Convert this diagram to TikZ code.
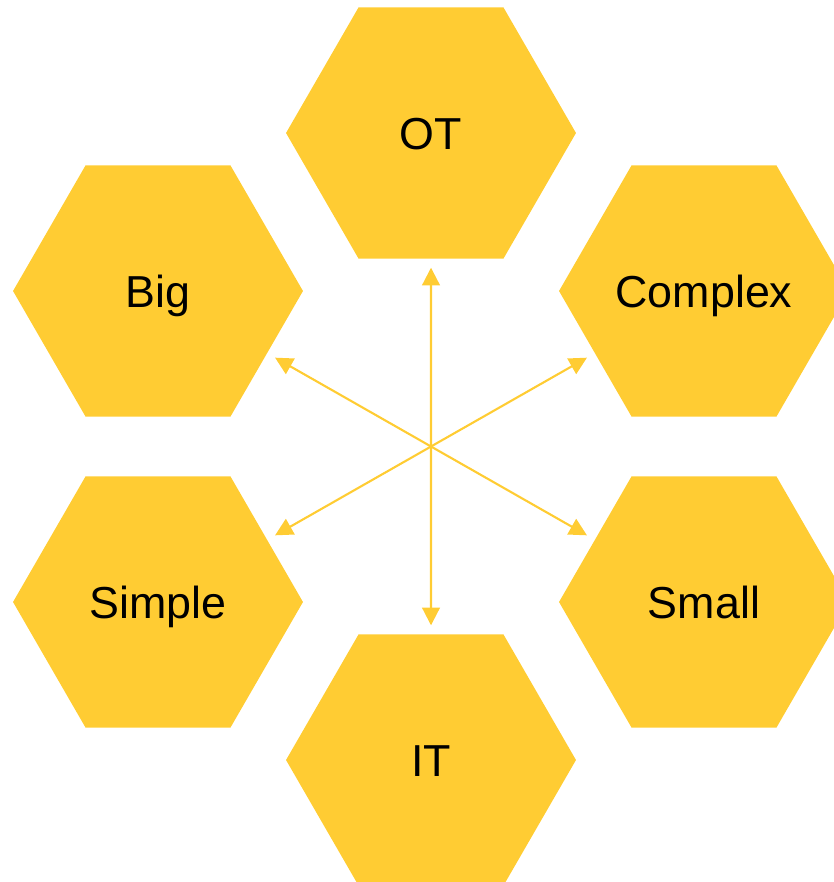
\documentclass[tikz,border=0pt]{standalone}
\usepackage{fontspec}
\setmainfont{Liberation Sans}
\usetikzlibrary{shapes.geometric,arrows.meta}
\definecolor{hexyellow}{RGB}{255,204,51}
\tikzset{
  hexcell/.style={regular polygon, regular polygon sides=6, minimum size=5.8cm,
    fill=hexyellow, inner sep=0pt, text height=18.3pt, text depth=0pt,
    font=\fontsize{25.5}{30}\selectfont},
  link/.style={hexyellow, line width=1.2pt, {Triangle[length=10pt,width=10pt]}-{Triangle[length=10pt,width=10pt]},
    shorten >=5pt, shorten <=5pt}
}

\begin{document}
\begin{tikzpicture}[x=0.02cm, y=-0.02cm]
   \useasboundingbox (0,0) rectangle (834,882);
   \clip (0,0) rectangle (834,882);
   % hexagons
   \node[hexcell] (OT) at (431,133) {OT};
   \node[hexcell] (Big) at (158,291) {Big};
   \node[hexcell] (Complex) at (704,291) {Complex};
   \node[hexcell] (Simple) at (158,602) {Simple};
   \node[hexcell] (Small) at (704,602) {Small};
   \node[hexcell] (IT) at (431,760) {IT};
   % double arrows
   \draw[link] (OT) -- (IT);
   \draw[link] (Big) -- (Small);
   \draw[link] (Complex) -- (Simple);
\end{tikzpicture}
\end{document}
